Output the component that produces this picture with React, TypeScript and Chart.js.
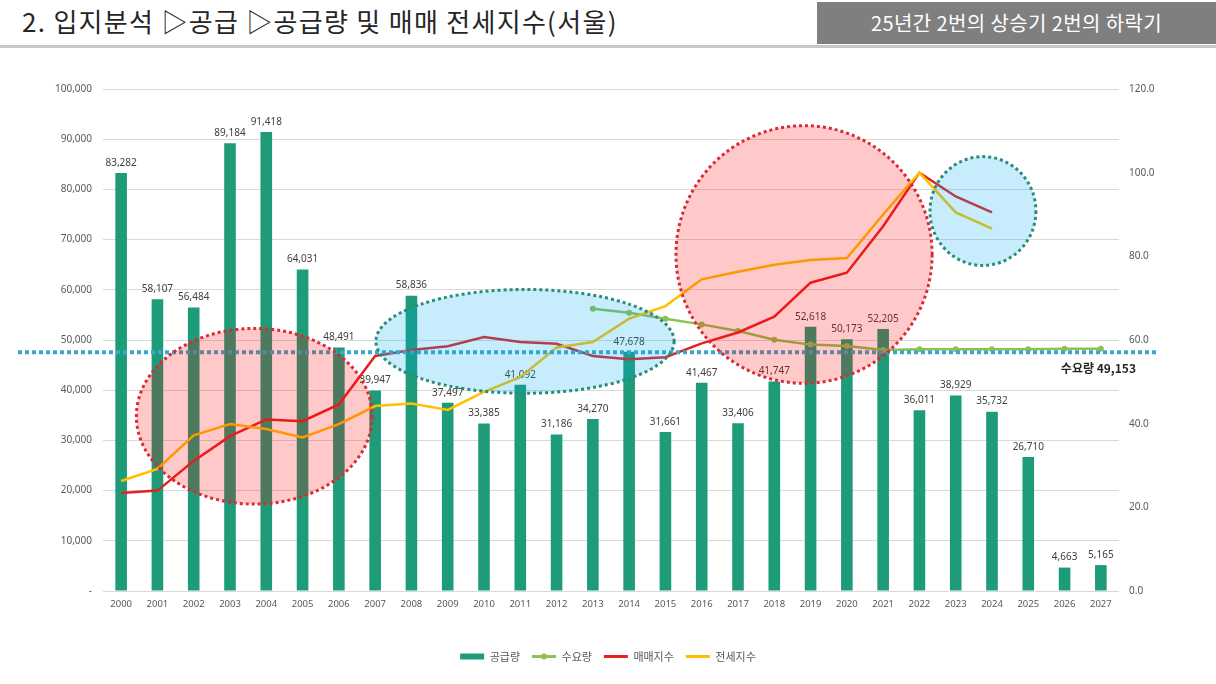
import { useEffect, useRef } from 'react';
import Chart from 'chart.js/auto';

// 연도 (category axis)
const years = [
  '2000', '2001', '2002', '2003', '2004', '2005', '2006', '2007', '2008', '2009',
  '2010', '2011', '2012', '2013', '2014', '2015', '2016', '2017', '2018', '2019',
  '2020', '2021', '2022', '2023', '2024', '2025', '2026', '2027',
];

// 공급량 (left axis)
const supply = [
  83282, 58107, 56484, 89184, 91418, 64031, 48491, 39947, 58836, 37497,
  33385, 41092, 31186, 34270, 47678, 31661, 41467, 33406, 41747, 52618,
  50173, 52205, 36011, 38929, 35732, 26710, 4663, 5165,
];

// 수요량 (left axis, from 2013)
const demand = [
  null, null, null, null, null, null, null, null, null, null,
  null, null, null, 56240, 55440, 54250, 53110, 51780, 50070, 49080,
  48800, 48000, 48140, 48140, 48140, 48140, 48280, 48280,
];

// 매매지수 (right axis)
const salesIndex = [
  23.4, 24.0, 31.1, 37.0, 41.0, 40.6, 44.6, 56.2, 57.6, 58.5,
  60.7, 59.5, 59.1, 56.2, 55.4, 55.9, 59.2, 61.8, 65.6, 73.7,
  76.1, 87.2, 100.0, 94.3, 90.5, null, null, null,
];

// 전세지수 (right axis)
const jeonseIndex = [
  26.3, 29.2, 37.2, 39.9, 38.7, 36.7, 39.9, 44.2, 44.8, 43.3,
  47.6, 51.1, 58.2, 59.5, 65.1, 68.1, 74.5, 76.3, 78.0, 79.1,
  79.6, 90.0, 100.0, 90.5, 86.6, null, null, null,
];

const leftMax = 100000;
const leftStep = 10000;
const rightMax = 120;
const rightStep = 20;

// 수요량 기준선 (dotted line) and its label
const demandLineValue = 47540;
const demandLabel = '수요량 49,153';

// highlight ellipses: [center category index, center value (left axis), x radius in categories, y radius in value]
const risePhases = [
  [3.67, 34810, 3.25, 17500],
  [18.82, 67040, 3.53, 25660],
];
const fallPhases = [
  [11.13, 49730, 4.11, 10340],
  [23.75, 75690, 1.46, 10840],
];

const title = '2. 입지분석 ▷공급 ▷공급량 및 매매 전세지수(서울)';
const badge = '25년간 2번의 상승기 2번의 하락기';

const GREEN = '#1e9b79';
const LIME = '#8dc152';
const RED = '#e52222';
const GOLD = '#ffc000';
const TICK = '#595959';
const FONT = "'Noto Sans', 'Noto Sans CJK KR', sans-serif";

const overlayPlugin = {
  id: 'overlay',
  afterDatasetDraw(chart: any, args: any) {
    if (args.index !== 0) return;
    const { ctx } = chart;
    ctx.save();
    ctx.font = `10px ${FONT}`;
    ctx.fillStyle = '#404040';
    ctx.textAlign = 'center';
    ctx.textBaseline = 'bottom';
    args.meta.data.forEach((bar: any, i: number) => {
      ctx.fillText(supply[i].toLocaleString('en-US'), bar.x, bar.y - 5);
    });
    ctx.restore();
  },
  afterDatasetsDraw(chart: any) {
    const { ctx } = chart;
    const xs = chart.scales.x;
    const ys = chart.scales.y;

    // dotted demand line across the slide
    ctx.save();
    const yLine = ys.getPixelForValue(demandLineValue);
    ctx.strokeStyle = '#3aa8cc';
    ctx.lineWidth = 4;
    ctx.setLineDash([4, 3]);
    ctx.beginPath();
    ctx.moveTo(18, yLine);
    ctx.lineTo(chart.width - 60, yLine);
    ctx.stroke();
    ctx.setLineDash([]);
    ctx.font = `bold 12px 'Noto Sans CJK KR', sans-serif`;
    ctx.fillStyle = '#262626';
    ctx.textAlign = 'right';
    ctx.textBaseline = 'middle';
    ctx.fillText(demandLabel, chart.width - 80, yLine + 16);
    ctx.restore();

    const drawEllipse = (e: number[], fill: string, stroke: string) => {
      const [cx, cy, rx, ry] = e;
      const px = xs.getPixelForValue(cx);
      const py = ys.getPixelForValue(cy);
      const prx = Math.abs(xs.getPixelForValue(cx + rx) - px);
      const pry = Math.abs(ys.getPixelForValue(cy + ry) - py);
      ctx.save();
      ctx.beginPath();
      ctx.ellipse(px, py, prx, pry, 0, 0, Math.PI * 2);
      ctx.fillStyle = fill;
      ctx.fill();
      ctx.setLineDash([3, 3]);
      ctx.lineWidth = 3;
      ctx.strokeStyle = stroke;
      ctx.stroke();
      ctx.restore();
    };
    risePhases.forEach((e) => drawEllipse(e, 'rgba(255, 0, 0, 0.21)', '#d92a36'));
    fallPhases.forEach((e) => drawEllipse(e, 'rgba(0, 170, 235, 0.22)', '#2a8c7a'));
  },
  afterDraw(chart: any) {
    // dot marker on the 수요량 legend line
    const items = chart.legend?.legendItems || [];
    const idx = items.findIndex((it: any) => it.datasetIndex === 1);
    const box = chart.legend?.legendHitBoxes?.[idx];
    if (!box) return;
    const { ctx } = chart;
    ctx.save();
    ctx.fillStyle = LIME;
    ctx.beginPath();
    ctx.arc(box.left + 12, box.top + box.height / 2, 3, 0, Math.PI * 2);
    ctx.fill();
    ctx.restore();
  },
};

function SupplyChart() {
  const chartRef = useRef<HTMLCanvasElement>(null);

  useEffect(() => {
    if (!chartRef.current) return;
    const colors = [GREEN, LIME, RED, GOLD];
    const config: any = {
      type: 'bar',
      data: {
        labels: years,
        datasets: [
          {
            type: 'bar',
            label: '공급량',
            data: supply,
            backgroundColor: GREEN,
            yAxisID: 'y',
            order: 10,
            barPercentage: 0.32,
            categoryPercentage: 1,
          },
          {
            type: 'line',
            label: '수요량',
            data: demand,
            borderColor: LIME,
            backgroundColor: LIME,
            borderWidth: 2.5,
            pointRadius: 3,
            pointBorderWidth: 0,
            pointBackgroundColor: LIME,
            yAxisID: 'y',
            order: 3,
          },
          {
            type: 'line',
            label: '매매지수',
            data: salesIndex,
            borderColor: RED,
            backgroundColor: RED,
            borderWidth: 2.5,
            pointRadius: 0,
            yAxisID: 'y1',
            order: 2,
          },
          {
            type: 'line',
            label: '전세지수',
            data: jeonseIndex,
            borderColor: GOLD,
            backgroundColor: GOLD,
            borderWidth: 2.5,
            pointRadius: 0,
            yAxisID: 'y1',
            order: 1,
          },
        ],
      },
      options: {
        animation: false,
        responsive: true,
        maintainAspectRatio: false,
        layout: { padding: { top: 39, bottom: 12, left: 0, right: 0 } },
        plugins: {
          tooltip: { enabled: false },
          legend: {
            position: 'bottom',
            labels: {
              usePointStyle: true,
              pointStyleWidth: 24,
              boxHeight: 6,
              padding: 12,
              color: TICK,
              font: { size: 11, family: "'Noto Sans CJK KR', sans-serif" },
              generateLabels: (c: any) =>
                Chart.defaults.plugins.legend.labels
                  .generateLabels(c)
                  .sort((a: any, b: any) => a.datasetIndex - b.datasetIndex)
                  .map((it: any) => ({
                    ...it,
                    pointStyle: it.datasetIndex === 0 ? 'rect' : 'line',
                    fillStyle: colors[it.datasetIndex],
                    strokeStyle: colors[it.datasetIndex],
                    lineWidth: it.datasetIndex === 0 ? 0 : 3,
                  })),
            },
          },
        },
        scales: {
          x: {
            grid: { display: false, drawTicks: false },
            border: { display: false },
            ticks: {
              color: TICK,
              font: { size: 9.5, family: FONT },
              padding: 8,
              maxRotation: 0,
              autoSkip: false,
            },
            afterFit: (s: any) => {
              s.height = 48;
            },
          },
          y: {
            position: 'left',
            min: 0,
            max: leftMax,
            ticks: {
              stepSize: leftStep,
              color: TICK,
              font: { size: 10, family: FONT },
              padding: 11,
              callback: (v: number) => (v === 0 ? '-' : v.toLocaleString('en-US')),
            },
            grid: { color: '#d9d9d9', drawTicks: false },
            border: { display: false },
            afterFit: (s: any) => {
              s.width = 103;
            },
          },
          y1: {
            position: 'right',
            min: 0,
            max: rightMax,
            ticks: {
              stepSize: rightStep,
              color: TICK,
              font: { size: 10, family: FONT },
              padding: 10,
              callback: (v: number) => v.toFixed(1),
            },
            grid: { display: false, drawTicks: false },
            border: { display: false },
            afterFit: (s: any) => {
              s.width = 97;
            },
          },
        },
      },
      plugins: [overlayPlugin],
    };

    const chart = new Chart(chartRef.current, config);
    return () => {
      chart.destroy();
    };
  }, []);

  return <canvas ref={chartRef}></canvas>;
}

export default function App() {
  return (
    <div
      style={{
        position: 'fixed',
        left: 0,
        top: 0,
        width: 1216,
        height: 684,
        background: '#fff',
        overflow: 'hidden',
      }}
    >
      <div
        style={{
          position: 'absolute',
          left: 22,
          top: 0,
          height: 42,
          lineHeight: '42px',
          fontSize: 26,
          letterSpacing: 1.3,
          color: '#262626',
          fontFamily: "'Noto Sans CJK KR', sans-serif",
          whiteSpace: 'nowrap',
        }}
      >
        {title}
      </div>
      <div
        style={{
          position: 'absolute',
          left: 817,
          top: 2,
          width: 399,
          height: 42,
          lineHeight: '42px',
          background: '#7f7f7f',
          color: '#fff',
          fontSize: 20,
          letterSpacing: 0.4,
          textAlign: 'center',
          fontFamily: "'Noto Sans CJK KR', sans-serif",
          whiteSpace: 'nowrap',
        }}
      >
        {badge}
      </div>
      <div
        style={{ position: 'absolute', left: 0, top: 45, width: 1216, height: 3, background: '#c8c8c8' }}
      ></div>
      <div style={{ position: 'absolute', left: 0, top: 50, width: 1216, height: 634 }}>
        <SupplyChart />
      </div>
    </div>
  );
}
